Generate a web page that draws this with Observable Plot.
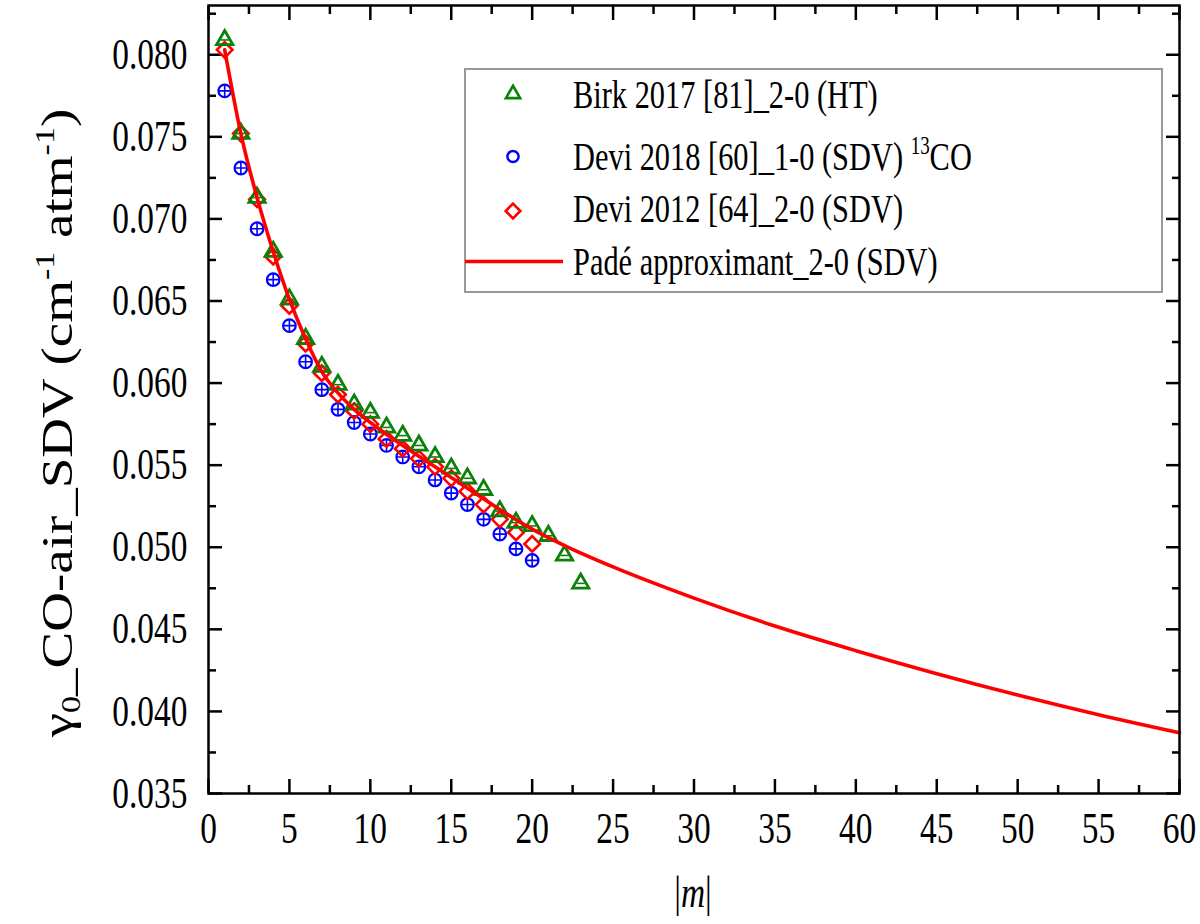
<!DOCTYPE html>
<html><head><meta charset="utf-8">
<script src="https://cdn.jsdelivr.net/npm/d3@7"></script>
<script src="https://cdn.jsdelivr.net/npm/@observablehq/plot@0.6"></script>
<style>body{margin:0;background:#fff;}</style>
</head><body><div id="chart"></div>
<script>
// ---- data ----
const birkM  = [1,2,3,4,5,6,7,8,9,10,11,12,13,14,15,16,17,18,19,20,21,22,23];
const birkG  = [0.0809,0.0752,0.0713,0.0680,0.0651,0.0627,0.0610,0.0599,0.0587,0.0582,0.0573,0.0568,0.0562,0.0555,0.0548,0.0542,0.0535,0.0522,0.0515,0.0513,0.0507,0.0495,0.0478];
const devi18M = [1,2,3,4,5,6,7,8,9,10,11,12,13,14,15,16,17,18,19,20];
const devi18G = [0.0778,0.0731,0.0694,0.0663,0.0635,0.0613,0.0596,0.0584,0.0576,0.0569,0.0562,0.0555,0.0549,0.0541,0.0533,0.0526,0.0517,0.0508,0.0499,0.0492];
const devi12M = [1,2,3,4,5,6,7,8,9,10,11,12,13,14,15,16,17,18,19,20];
const devi12G = [0.0803,0.0752,0.0712,0.0677,0.0647,0.0624,0.0606,0.0593,0.0583,0.0575,0.0566,0.0560,0.0554,0.0549,0.0542,0.0534,0.0526,0.0517,0.0509,0.0502];
const padeM = [1,2,3,4,5,6,7,8,9,10,12,14,16,18,20,22,25,30,35,40,45,50,55,60];
const padeG = [0.0803,0.0752,0.0713,0.0680,0.0651,0.0627,0.0607,0.0594,0.0584,0.0576,0.0562,0.0549,0.0536,0.0523,0.0511,0.0501,0.0488,0.0469,0.0452,0.0437,0.0423,0.0410,0.0398,0.0387];

const xTicks = [0,5,10,15,20,25,30,35,40,45,50,55,60];
const xMinor = [2.5,7.5,12.5,17.5,22.5,27.5,32.5,37.5,42.5,47.5,52.5,57.5];
const yTicks = [0.035,0.040,0.045,0.050,0.055,0.060,0.065,0.070,0.075,0.080];
const yMinor = [0.0375,0.0425,0.0475,0.0525,0.0575,0.0625,0.0675,0.0725,0.0775,0.0825];

const legendLabels = ["Birk 2017 [81]_2-0 (HT)", "Devi 2018 [60]_1-0 (SDV) ", "Devi 2012 [64]_2-0 (SDV)", "Padé approximant_2-0 (SDV)"];

const GREEN = "#0a820a", BLUE = "#0000ff", RED = "#ff0000";
const FONT = "'Liberation Serif','Times New Roman',serif";
const SQ = 0.76;

const birk = birkM.map((m,i)=>({m, g: birkG[i]}));
const devi18 = devi18M.map((m,i)=>({m, g: devi18G[i]}));
const devi12 = devi12M.map((m,i)=>({m, g: devi12G[i]}));
const pade = padeM.map((m,i)=>({m, g: padeG[i]}));

const plusSym = {draw(ctx, size){ const r = Math.sqrt(size/Math.PI); ctx.moveTo(-r,0); ctx.lineTo(r,0); ctx.moveTo(0,-r); ctx.lineTo(0,r);} };
const dashSym = {draw(ctx, size){ const r = Math.sqrt(size/Math.PI); ctx.moveTo(-r,0); ctx.lineTo(r,0);} };

const TS = 2.5;
const chart = Plot.plot({
  width: 1200, height: 924,
  marginLeft: 208, marginRight: 21, marginTop: 5, marginBottom: 131,
  style: {fontFamily: FONT, fontSize: "44px", color: "black", background: "white"},
  x: {domain: [0, 60]},
  y: {domain: [0.035, 0.083]},
  marks: [
    Plot.axisX(xTicks, {anchor: "bottom", tickSize: 14, dy: -14, fill: "none", label: null, strokeWidth: TS}),
    Plot.axisX(xMinor, {anchor: "bottom", tickSize: 8, dy: -8, fill: "none", label: null, strokeWidth: TS}),
    Plot.axisX(xTicks, {anchor: "top", tickSize: 14, dy: 14, fill: "none", label: null, strokeWidth: TS}),
    Plot.axisX(xMinor, {anchor: "top", tickSize: 8, dy: 8, fill: "none", label: null, strokeWidth: TS}),
    Plot.axisY(yTicks, {anchor: "left", tickSize: 14, dx: 14, fill: "none", label: null, strokeWidth: TS}),
    Plot.axisY(yMinor, {anchor: "left", tickSize: 8, dx: 8, fill: "none", label: null, strokeWidth: TS}),
    Plot.axisY(yTicks, {anchor: "right", tickSize: 14, dx: -14, fill: "none", label: null, strokeWidth: TS}),
    Plot.axisY(yMinor, {anchor: "right", tickSize: 8, dx: -8, fill: "none", label: null, strokeWidth: TS}),
    Plot.axisX(xTicks, {anchor: "bottom", tickSize: 0, tickPadding: 18, label: null, tickFormat: d => String(d), fontSize: 44}),
    Plot.axisY(yTicks, {anchor: "left", tickSize: 0, tickPadding: 21, label: null, tickFormat: d3.format(".3f"), fontSize: 44}),
    Plot.dot(devi18, {x: "m", y: "g", symbol: "circle", r: 6.3, stroke: BLUE, strokeWidth: 2.2, fill: "none"}),
    Plot.dot(devi18, {x: "m", y: "g", symbol: plusSym, r: 6.3, stroke: BLUE, strokeWidth: 1.6}),
    Plot.dot(devi12, {x: "m", y: "g", symbol: "diamond2", r: 7, stroke: RED, strokeWidth: 2.6, fill: "none"}),
    Plot.dot(birk, {x: "m", y: "g", symbol: "triangle2", r: 7.8, stroke: GREEN, strokeWidth: 2.8, fill: "none"}),
    Plot.dot(birk, {x: "m", y: "g", symbol: dashSym, r: 4, stroke: GREEN, strokeWidth: 1.6}),
    Plot.line(pade, {x: "m", y: "g", stroke: RED, strokeWidth: 3.6, curve: "monotone-x"}),
    Plot.frame({stroke: "black", strokeWidth: 2.5})
  ]
});
document.getElementById("chart").appendChild(chart);

const svg = d3.select(chart);

// Legend
const lg = svg.append("g").attr("font-family", FONT).attr("font-size", 40).attr("text-anchor", "start");
lg.append("rect").attr("x", 465).attr("y", 69).attr("width", 697).attr("height", 223)
  .attr("fill", "white").attr("stroke", "#999").attr("stroke-width", 2);
const rowY = [95, 156.5, 209, 261.5];
const symX = 513;
const sym = (type, r) => d3.symbol(type, Math.PI * r * r)();
lg.append("path").attr("transform", `translate(${symX},${rowY[0] - 1})`).attr("d", sym(d3.symbolTriangle2, 6.8)).attr("fill", "none").attr("stroke", GREEN).attr("stroke-width", 2.6);
lg.append("path").attr("transform", `translate(${symX},${rowY[1]})`).attr("d", sym(d3.symbolCircle, 5.6)).attr("fill", "none").attr("stroke", BLUE).attr("stroke-width", 2.5);
lg.append("path").attr("transform", `translate(${symX},${rowY[2] + 2})`).attr("d", sym(d3.symbolDiamond2, 6.6)).attr("fill", "none").attr("stroke", RED).attr("stroke-width", 2.6);
lg.append("line").attr("x1", 465).attr("x2", 563).attr("y1", rowY[3]).attr("y2", rowY[3]).attr("stroke", RED).attr("stroke-width", 3.6);
const legTexts = [];
legendLabels.forEach((t, i) => {
  const tx = lg.append("text").attr("x", 573).attr("y", rowY[i] + 13.5).attr("fill", "black").text(t);
  if (i === 1) {
    tx.append("tspan").attr("font-size", 25).attr("dy", -16).text("13");
    tx.append("tspan").attr("dy", 16).text("CO");
  }
  legTexts.push(tx.node());
});

// Axis titles
const yl = svg.append("text").attr("font-family", FONT).attr("font-size", 55).attr("fill", "black")
  .attr("text-anchor", "middle").attr("transform", `translate(72,423) rotate(-90) scale(1,0.8)`);
yl.append("tspan").text("γ");
yl.append("tspan").attr("font-size", 34).attr("dy", 10).text("0");
yl.append("tspan").attr("dy", -10).text("_CO-air_SDV (cm");
yl.append("tspan").attr("font-size", 34).attr("dy", -22).text("-1");
yl.append("tspan").attr("dy", 22).text(" atm");
yl.append("tspan").attr("font-size", 34).attr("dy", -22).text("-1");
yl.append("tspan").attr("dy", 22).text(")");

const xl = svg.append("text").attr("font-family", FONT).attr("font-size", 44).attr("fill", "black")
  .attr("text-anchor", "middle").attr("x", 693).attr("y", 907);
xl.append("tspan").text("|");
xl.append("tspan").attr("font-style", "italic").text("m");
xl.append("tspan").text("|");

// horizontally condensed lettering, as in the reference
function squeeze(el) {
  const bb = el.getBBox();
  const anchor = getComputedStyle(el).textAnchor;
  const ox = anchor === "end" ? bb.x + bb.width : anchor === "middle" ? bb.x + bb.width / 2 : bb.x;
  const t = el.getAttribute("transform") || "";
  el.setAttribute("transform", `${t} translate(${ox},0) scale(${SQ},1) translate(${-ox},0)`);
}
chart.querySelectorAll('g[aria-label$="tick label"] text').forEach(squeeze);
legTexts.forEach(squeeze);
squeeze(xl.node());
</script>
</body></html>
